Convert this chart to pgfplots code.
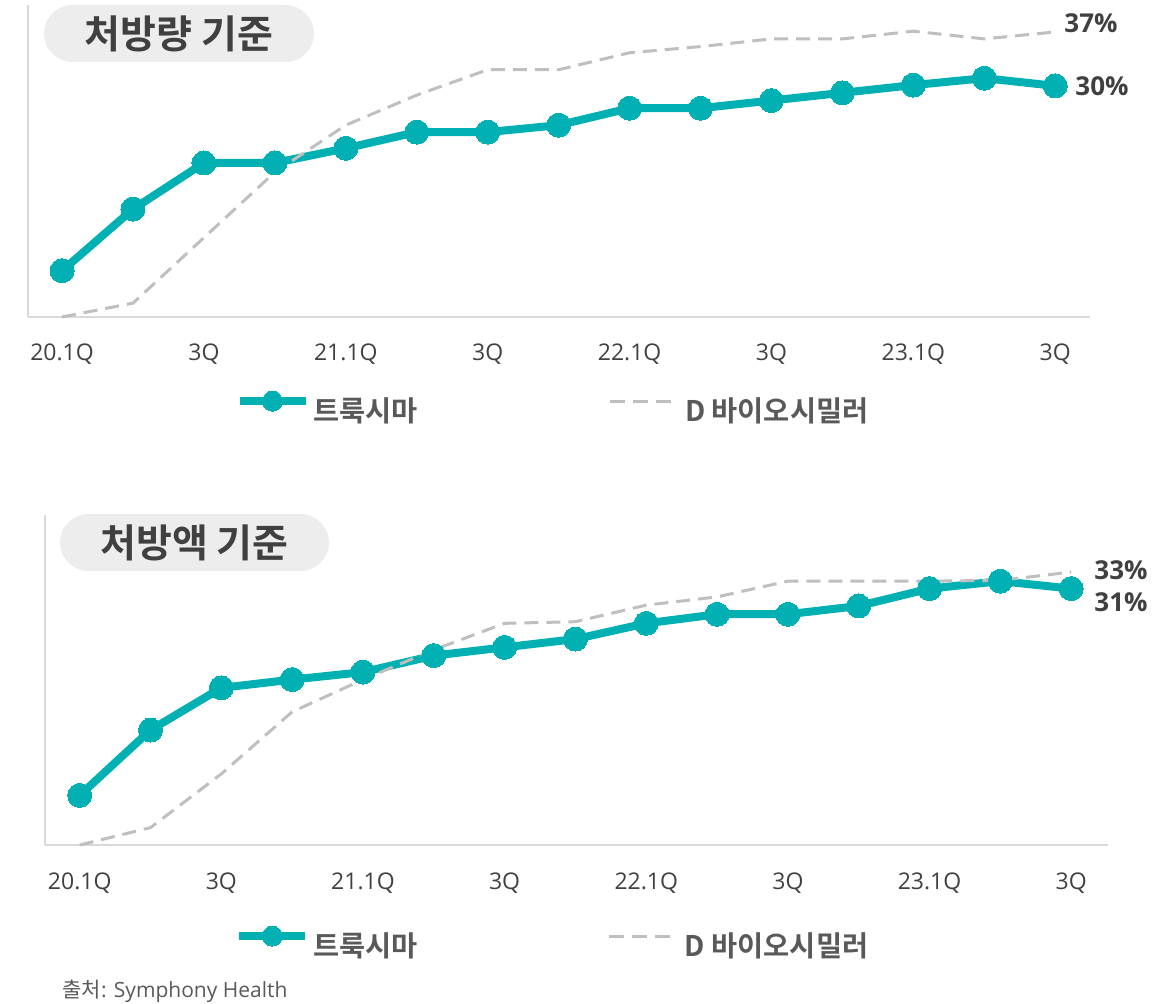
\documentclass[border=0pt]{standalone}
\usepackage{fontspec}
\setmainfont{Open Sans}
\newfontfamily\kr{Noto Sans CJK KR}[BoldFont={Noto Sans CJK KR Bold}]
\usepackage{pgfplots}
\usepackage{pgfplotstable}
\pgfplotsset{compat=1.18}

\definecolor{truxteal}{HTML}{00B0B2}
\definecolor{biogray}{HTML}{BFBFBF}
\definecolor{axisgray}{HTML}{D9D9D9}
\definecolor{labelgray}{HTML}{404040}
\definecolor{legendgray}{HTML}{595959}
\definecolor{pill}{HTML}{EDEDED}

% quarter index, Truxima share, D biosimilar share
\pgfplotstableread{
q   trux  bio
0   6.0   0.0
1   14.0  1.8
2   20.0  10.3
3   20.0  18.8
4   21.9  24.9
5   24.0  28.8
6   24.0  32.1
7   24.9  32.1
8   27.1  34.3
9   27.1  35.1
10  28.1  36.1
11  29.1  36.1
12  30.1  37.1
13  31.0  36.1
14  30.0  37.0
}\volume

\pgfplotstableread{
q   trux  bio
0   6.0   0.0
1   13.9  2.1
2   19.0  8.6
3   20.0  16.1
4   20.9  20.0
5   22.9  23.6
6   23.9  26.8
7   24.9  27.0
8   26.8  29.0
9   27.9  30.0
10  27.9  31.9
11  28.9  31.9
12  31.0  31.9
13  31.9  32.0
14  31.0  33.0
}\amount

\pgfplotsset{
  panel/.style={
    scale only axis, clip=false,
    ymin=0,
    axis x line=bottom, axis y line=left,
    axis line style={draw=axisgray, line width=0.75pt, -},
    ytick=\empty,
    xtick={0,2,...,14},
    xticklabels={20.1Q,3Q,21.1Q,3Q,22.1Q,3Q,23.1Q,3Q},
    major tick length=0pt,
    xticklabel style={font=\fontsize{11.5}{13}\selectfont, text=labelgray, anchor=base, yshift=-22pt},
    legend columns=2,
    legend style={draw=none, fill=none, inner sep=0pt, anchor=west,
      nodes={inner sep=0pt},
      font=\kr\bfseries\fontsize{14.2}{16}\selectfont, text=legendgray,
      /tikz/every odd column/.append style={column sep=2pt},
      /tikz/every even column/.append style={column sep=95pt}},
  },
  trux/.style={truxteal, line width=4pt, mark=*, mark size=6pt,
    mark options={solid, fill=truxteal, draw=none, line width=0pt},
    legend image code/.code={
      \draw[##1, mark=none] (0pt,5.2pt) -- (33pt,5.2pt);
      \draw[##1, only marks, mark size=5pt] plot coordinates {(16.5pt,5.2pt)};
    }},
  bio/.style={biogray, line width=1.5pt, dash pattern=on 7pt off 4pt, mark=none,
    legend image code/.code={
      \draw[##1, dash pattern=on 7.5pt off 4pt] (0pt,5.2pt) -- (30.5pt,5.2pt);
      \path (35pt,5.2pt);
    }},
}

\begin{document}
\begin{tikzpicture}
\path[use as bounding box] (0pt,0pt) rectangle (581pt,-502pt);

\begin{axis}[panel,
  at={(14pt,-158.5pt)}, anchor=south west,
  width=531pt, height=156pt,
  xmin=-0.48, xmax=14.49, ymax=40.5,
  legend style={at={(0.1950,-0.2917)}},
  ]
  \addplot[trux] table[x=q, y=trux] {\volume};
  \addplot[bio] table[x=q, y=bio] {\volume};
  \legend{트룩시마, D 바이오시밀러}
\end{axis}

\begin{axis}[panel,
  at={(22.5pt,-422.5pt)}, anchor=south west,
  width=531.5pt, height=165pt,
  xmin=-0.49, xmax=14.52, ymax=39.9,
  legend style={at={(0.1787,-0.297)}},
  ]
  \addplot[trux] table[x=q, y=trux] {\amount};
  \addplot[bio] table[x=q, y=bio] {\amount};
  \legend{트룩시마, D 바이오시밀러}
\end{axis}

\node[fill=pill, rounded corners=14.25pt, minimum width=135pt, minimum height=28.5pt, inner sep=0pt,
  font=\kr\bfseries\fontsize{19.5}{22}\selectfont, text=labelgray] at (89.5pt,-16.75pt) {처방량 기준};
\node[fill=pill, rounded corners=14.25pt, minimum width=134.5pt, minimum height=28.5pt, inner sep=0pt,
  font=\kr\bfseries\fontsize{19.5}{22}\selectfont, text=labelgray] at (97.25pt,-271.25pt) {처방액 기준};

\tikzset{pct/.style={anchor=west, inner sep=0pt, font=\bfseries\fontsize{13}{15}\selectfont, text=labelgray}}
\node[pct] at (532pt,-11.5pt) {37\%};
\node[pct] at (537.5pt,-43pt) {30\%};
\node[pct] at (547pt,-285pt) {33\%};
\node[pct] at (547pt,-301pt) {31\%};

\node[anchor=west, inner sep=0pt, text=legendgray, font=\fontsize{10.5}{12}\selectfont] at (31pt,-495.5pt) {{\kr 출처}: Symphony Health};
\end{tikzpicture}
\end{document}
